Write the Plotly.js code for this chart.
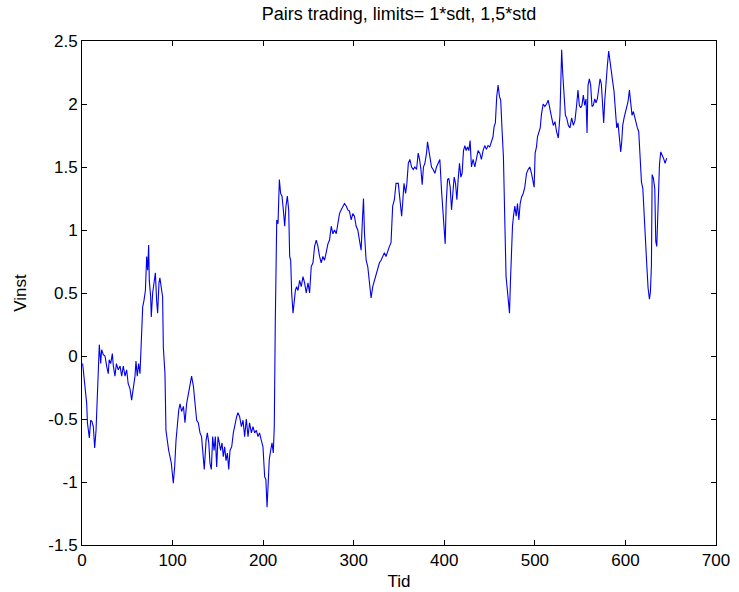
<!DOCTYPE html>
<html>
<head>
<meta charset="utf-8">
<script src="https://cdn.plot.ly/plotly-3.0.1.min.js"></script>
<style>html,body{margin:0;padding:0;background:#fff;}#chart{width:739px;height:592px;}</style>
</head>
<body>
<div id="chart"></div>
<script>
// Series (Tid, Vinst)
var tid = [0.7,2.2,3.3,5.2,6,7,8.1,9.6,11,12.5,14,15.5,17,18,19.1,20.6,21.7,23.5,25.4,27.2,29,30,31.7,33.5,34.6,36.4,38,40,42,43.8,45.6,47.5,49.3,51,53,54.8,56.7,58.5,59.6,61,62.5,64,65,66.3,67,68.4,70,71.4,72.5,73.6,74.3,75.8,76.5,78,79.5,81,82.4,83.5,85,86,88,89,89.8,91.6,92.7,94.2,95.7,97.2,98.6,100.8,102.3,103.8,105.3,106.8,108.2,110,112,113.7,115.5,117.4,119,121,123,124.8,126.6,128.4,130.3,132,134,135,137,138.4,140,141.3,142.8,144.3,145.8,147.2,148.7,150.2,151.6,153,154.6,156,157.5,159,160.5,162,163.4,165.3,167.1,169,170.8,
172.2,174,176,177.8,179.6,181.4,183.3,185,187,188.8,190.6,192.5,194.3,196,198,199.8,201.7,203,204.3,205.3,206.8,208.3,209.8,211.2,212.3,213.4,215,216.4,217.9,219.3,220.8,222.3,223.8,225.2,226.7,228.2,229.3,230.4,231.5,233,234.1,235.6,237,238.5,240.3,242.1,244,245.8,247.6,249.5,251.3,253.1,255,256.8,258.6,260.5,262.3,264.1,266,267.8,269.6,271.5,273.3,275.2,277,278.8,280.7,282.5,284.3,286.2,288,289.8,291.7,293.5,295.3,297.2,299,300.8,302.7,304.5,306.3,308.2,309.6,310.8,311.9,313.7,315.5,317.4,319.2,321,322.9,324.7,326.5,328.4,330.2,332,333.9,335.7,337.5,339.4,341.2,343,344.9,
346.7,349.2,351.1,352.9,354,355.5,357.3,358.7,360.3,362,363.9,365.7,367.5,369.4,371.2,372.7,374.2,375.6,377,378.6,380.4,381.5,383,384.4,385.9,387.7,389.6,391.4,393.2,395.1,396.9,398.4,399.9,401,402.1,403.6,405,406.5,408,409.5,410.9,412.4,413.9,415.3,416.8,418.3,419.7,421.2,422.7,424.1,425.6,427.1,428.5,430,431.8,433.7,435.5,437.3,439.2,441,442.8,444.7,446.5,448.3,450.2,452,453.8,455,456.4,457.9,459.4,460.9,462.3,463.8,465.3,466.8,468.2,469.3,470.5,472,473,474.2,475.3,476.4,477.9,479.4,480.8,482.3,483.8,485.3,487.1,488.9,490.8,492.6,494.4,496.3,498.1,499.2,500.3,501.8,502.9,504.4,505.9,507.3,509.2,511,512.9,514.7,516.5,
518.6,520.4,522.2,524,525.9,527.7,529.6,530.7,532.2,533.7,535.1,537,538.8,540.6,542.5,544.3,546.1,547.6,549.1,550.6,552,553.5,555,556.5,557.6,558.7,560.2,561.6,563.1,564.6,566.1,567.5,569,570.5,572,573.4,574.9,576,577.1,578.6,580,581.5,583,584.5,585.9,587.4,588.9,590.4,591.8,593.3,594.8,595.9,597,598.5,600,601.4,602.9,604.4,605.9,607.3,608.8,610.3,611.8,613.2,614.7,616.2,617.7,619.2,620.6,622.1,623.6,625,626.5,627.6,628.7,629.5,630.9,632.4,633.5,634.6,636.1,637.6,639,640.5,642,643.8,645.6];

var vinst = [-0.06,-0.16,-0.27,-0.38,-0.53,-0.59,-0.65,-0.51,-0.52,-0.56,-0.73,-0.59,-0.27,-0.14,0.09,-0.06,0.05,0.01,0,-0.08,-0.14,-0.03,-0.06,0.02,-0.08,-0.16,-0.06,-0.11,-0.08,-0.16,-0.08,-0.16,-0.11,-0.22,-0.26,-0.35,-0.24,-0.16,-0.04,-0.16,-0.06,-0.14,0.03,0.21,0.39,0.44,0.52,0.79,0.68,0.88,0.6,0.47,0.31,0.5,0.6,0.66,0.44,0.34,0.58,0.62,0.52,0.47,0.07,-0.14,-0.59,-0.69,-0.75,-0.8,-0.85,-1.01,-0.88,-0.67,-0.51,-0.43,-0.38,-0.44,-0.4,-0.53,-0.38,-0.3,-0.24,-0.16,-0.24,-0.38,-0.51,-0.53,-0.61,-0.64,-0.85,-0.9,-0.67,-0.61,-0.69,-0.85,-0.9,-0.64,-0.75,-0.64,-0.88,-0.64,-0.69,-0.75,-0.69,-0.8,-0.72,-0.83,-0.77,-0.9,-0.75,-0.72,-0.61,-0.53,-0.48,
-0.45,-0.48,-0.56,-0.51,-0.64,-0.5,-0.64,-0.53,-0.61,-0.56,-0.61,-0.59,-0.64,-0.61,-0.67,-0.72,-0.96,-0.98,-1.2,-0.98,-0.82,-0.75,-0.69,-0.77,-0.56,0.26,1.08,1.05,1.4,1.29,1.27,1.16,1.03,1.19,1.27,1.16,0.79,0.76,0.5,0.34,0.44,0.52,0.55,0.52,0.6,0.55,0.63,0.58,0.5,0.58,0.5,0.71,0.74,0.87,0.92,0.87,0.79,0.74,0.79,0.76,0.82,0.89,0.92,1.03,0.97,1.0,0.97,1.05,1.13,1.16,1.19,1.21,1.19,1.16,1.15,1.08,1.13,1.11,1.03,1.0,0.92,0.84,1.08,1.25,0.97,0.76,0.71,0.55,0.46,0.55,0.6,0.66,0.71,0.74,0.76,0.79,0.82,0.79,0.84,0.87,0.9,1.19,1.24,
1.37,1.37,1.24,1.11,1.21,1.37,1.29,1.37,1.53,1.56,1.5,1.48,1.5,1.48,1.61,1.56,1.48,1.36,1.5,1.53,1.61,1.7,1.63,1.56,1.5,1.48,1.45,1.5,1.53,1.56,1.32,1.16,1.05,0.89,1.21,1.4,1.41,1.34,1.16,1.32,1.42,1.37,1.24,1.4,1.53,1.42,1.45,1.63,1.67,1.63,1.66,1.63,1.71,1.5,1.56,1.5,1.56,1.63,1.61,1.56,1.63,1.67,1.64,1.67,1.66,1.71,1.74,1.82,1.85,2.06,2.15,2.06,2.03,1.79,1.58,1.08,0.63,0.55,0.42,0.34,0.58,0.84,1.03,1.11,1.19,1.11,1.21,1.08,1.21,1.26,1.29,1.34,1.45,1.48,1.5,1.45,1.37,1.34,1.61,1.66,1.74,1.77,1.81,1.92,2.0,1.98,2.0,2.03,1.95,
1.89,1.83,1.86,1.78,1.73,1.91,2.43,2.25,2.07,1.91,1.89,1.83,1.81,1.89,1.83,1.87,1.99,2.11,1.99,1.97,1.99,2.07,1.99,2.04,1.77,2.15,2.2,2.15,1.98,1.99,2.04,2.01,2.04,2.15,2.2,2.16,1.97,1.85,2.02,2.2,2.3,2.42,2.32,2.23,2.18,2.1,1.97,1.81,1.85,1.73,1.62,1.7,1.83,1.89,1.94,1.97,2.02,2.11,1.97,1.91,1.94,1.89,1.86,1.81,1.78,1.54,1.38,1.33,1.12,0.85,0.72,0.54,0.45,0.51,0.72,1.44,1.41,1.33,0.91,0.87,1.25,1.52,1.62,1.6,1.57,1.53,1.57];

var xTicks = [0,100,200,300,400,500,600,700];
var xTickLabels = ['0','100','200','300','400','500','600','700'];
var yTicks = [-1.5,-1,-0.5,0,0.5,1,1.5,2,2.5];
var yTickLabels = ['-1.5','-1','-0.5','0','0.5','1','1.5','2','2.5'];

var titleText = 'Pairs trading, limits= 1*sdt, 1,5*std';
var xTitle = 'Tid';
var yTitle = 'Vinst';

var fontFam = 'Liberation Sans, Arial, sans-serif';

var trace = {
  x: tid, y: vinst, type: 'scatter', mode: 'lines',
  line: {color: '#0000ee', width: 1.1},
  hoverinfo: 'skip', showlegend: false
};

var axBase = {
  showline: true, linecolor: '#000', linewidth: 1, mirror: 'allticks',
  ticks: 'inside', ticklen: 5, tickwidth: 1, tickcolor: '#000',
  showgrid: false, zeroline: false, tickmode: 'array',
  tickfont: {family: fontFam, size: 17, color: '#000'}
};

var layout = {
  width: 739, height: 592,
  paper_bgcolor: '#fff', plot_bgcolor: '#fff',
  margin: {l: 82, r: 23, t: 41, b: 47, pad: 0},
  font: {family: fontFam, color: '#000'},
  title: {text: titleText, font: {family: fontFam, size: 18, color: '#000'},
          x: 0.5, xref: 'paper', xanchor: 'center', y: 1 - 14/592, yref: 'container', yanchor: 'middle'},
  xaxis: Object.assign({}, axBase, {range: [0, 700], tickvals: xTicks, ticktext: xTickLabels,
          title: {text: xTitle, font: {family: fontFam, size: 17, color: '#000'}, standoff: 5}}),
  yaxis: Object.assign({}, axBase, {range: [-1.5, 2.5], tickvals: yTicks, ticktext: yTickLabels,
          title: {text: yTitle, font: {family: fontFam, size: 17, color: '#000'}, standoff: 17}})
};

Plotly.newPlot('chart', [trace], layout, {staticPlot: true, displayModeBar: false});
</script>
</body>
</html>
